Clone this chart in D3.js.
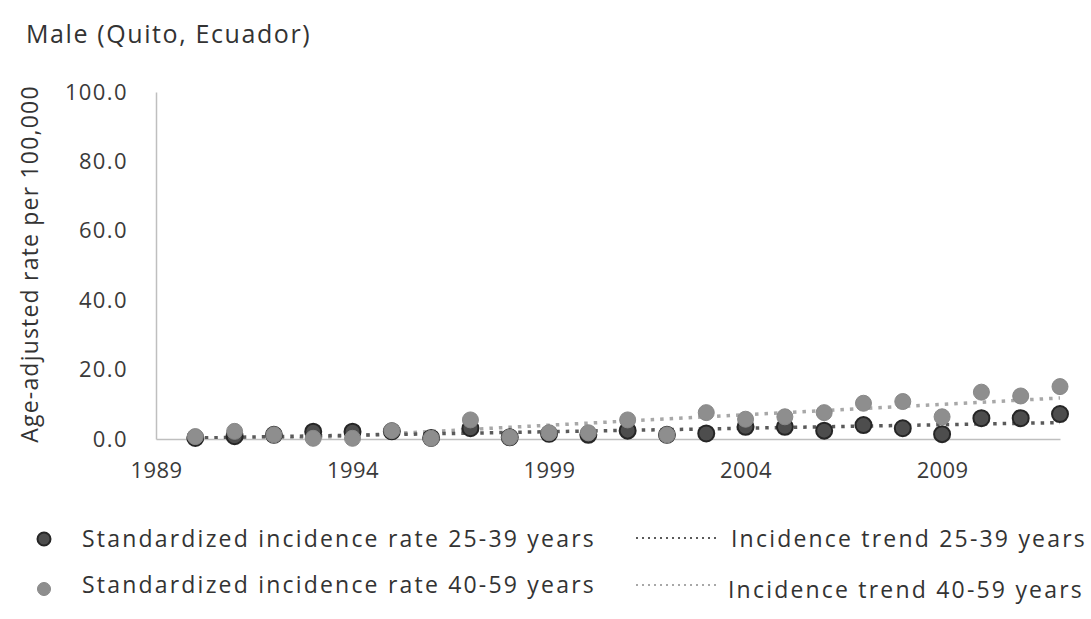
<!doctype html>
<html>
  <head>
    <script src="https://cdnjs.cloudflare.com/ajax/libs/d3/7.8.5/d3.min.js"></script>
    <style>
      body { margin: 0; background: #fff; }
      text { font-family: "Open Sans", sans-serif; fill: #333; }
      .axis path.domain { stroke: #bfbfbf; stroke-width: 1.5; }
      .axis text { font-size: 22px; fill: #3a3a3a; }
      .yaxis text { letter-spacing: 1.4px; }
      .xaxis text { letter-spacing: 0.4px; }
      circle.dark { fill: #4d4d4d; stroke: #262626; stroke-width: 2; }
      circle.light { fill: #8e8e8e; stroke: #888; stroke-width: 1; }
      path.trend-dark { fill: none; stroke: #5a5a5a; stroke-width: 3.5; stroke-dasharray: 3.5 6; }
      path.trend-light { fill: none; stroke: #a8a8a8; stroke-width: 3.5; stroke-dasharray: 3.5 6; }
      .legend text { font-size: 23px; letter-spacing: 2.2px; }
    </style>
  </head>
  <body>
    <svg id="chart" width="1091" height="619"></svg>
    <script>
      // values
      var years = [1990, 1991, 1992, 1993, 1994, 1995, 1996, 1997, 1998, 1999, 2000,
                   2001, 2002, 2003, 2004, 2005, 2006, 2007, 2008, 2009, 2010, 2011, 2012];
      var rate2539 = [0.3, 0.8, 1.2, 2.1, 2.1, 2.2, 0.3, 3.1, 0.5, 1.5, 1.2,
                      2.4, 1.2, 1.6, 3.5, 3.5, 2.4, 4.0, 3.1, 1.4, 6.0, 6.0, 7.2];
      var rate4059 = [0.7, 2.2, 1.2, 0.2, 0.2, 2.4, 0.2, 5.5, 0.5, 1.8, 1.8,
                      5.5, 1.2, 7.6, 5.7, 6.4, 7.6, 10.3, 10.8, 6.4, 13.5, 12.4, 15.1];
      var xTicks = [1989, 1994, 1999, 2004, 2009];
      var yTicks = [0, 20, 40, 60, 80, 100];
      var legendLabels = ["Standardized incidence rate 25-39 years", "Standardized incidence rate 40-59 years"];
      var trendLabels = ["Incidence trend 25-39 years", "Incidence trend 40-59 years"];

      var svg = d3.select("#chart");

      var x = d3.scaleLinear().domain([1989, 2012]).range([156, 1060]);
      var y = d3.scaleLinear().domain([0, 100]).range([439, 92]);

      svg.append("text")
        .attr("x", 26).attr("y", 43)
        .style("font-size", "25px")
        .style("letter-spacing", "1.6px")
        .text("Male (Quito, Ecuador)");

      svg.append("text")
        .attr("transform", "translate(38,264) rotate(-90)")
        .attr("text-anchor", "middle")
        .style("font-size", "23px")
        .style("letter-spacing", "1.2px")
        .text("Age-adjusted rate per 100,000");

      svg.append("g")
        .attr("class", "axis yaxis")
        .attr("transform", "translate(156,0)")
        .call(d3.axisLeft(y).tickValues(yTicks).tickFormat(d3.format(".1f")).tickSize(0).tickPadding(28));

      svg.append("g")
        .attr("class", "axis xaxis")
        .attr("transform", "translate(0,439)")
        .call(d3.axisBottom(x).tickValues(xTicks).tickFormat(d3.format("d")).tickSize(0).tickPadding(23));

      // least-squares trend lines, clipped to the plot like Excel does
      function fit(xs, ys) {
        var mx = d3.mean(xs), my = d3.mean(ys);
        var num = d3.sum(xs, (v, i) => (v - mx) * (ys[i] - my));
        var den = d3.sum(xs, v => (v - mx) * (v - mx));
        var b = num / den;
        return v => my + b * (v - mx);
      }

      svg.append("clipPath").attr("id", "plot")
        .append("rect").attr("x", 156).attr("y", 92).attr("width", 904).attr("height", 347);

      var line = d3.line().x(d => x(d[0])).y(d => y(d[1]));
      var ends = [years[0], years[years.length - 1]];

      var f1 = fit(years, rate2539);
      var f2 = fit(years, rate4059);

      var plot = svg.append("g").attr("clip-path", "url(#plot)");
      plot.append("path").attr("class", "trend-light")
        .attr("d", line(ends.map(v => [v, f2(v)])));
      plot.append("path").attr("class", "trend-dark")
        .attr("d", line(ends.map(v => [v, f1(v)])));

      svg.append("g").selectAll("circle").data(years)
        .enter()
        .append("circle")
          .attr("class", "dark")
          .attr("r", 8)
          .attr("cx", d => x(d))
          .attr("cy", (d, i) => y(rate2539[i]));

      svg.append("g").selectAll("circle").data(years)
        .enter()
        .append("circle")
          .attr("class", "light")
          .attr("r", 8)
          .attr("cx", d => x(d))
          .attr("cy", (d, i) => y(rate4059[i]));

      // legend
      var lg = svg.append("g").attr("class", "legend");
      var rows = [539, 589];
      lg.selectAll("circle").data(rows)
        .enter()
        .append("circle")
          .attr("class", (d, i) => i == 0 ? "dark" : "light")
          .attr("r", 6.5)
          .attr("cx", 44)
          .attr("cy", d => d);
      lg.selectAll("text.series").data(legendLabels)
        .enter()
        .append("text")
          .attr("class", "series")
          .attr("x", 82)
          .attr("y", (d, i) => i == 0 ? 547 : 593)
          .text(d => d);
      lg.selectAll("line").data([538, 585])
        .enter()
        .append("line")
          .attr("x1", 636).attr("x2", 720)
          .attr("y1", d => d).attr("y2", d => d)
          .style("stroke", (d, i) => i == 0 ? "#5a5a5a" : "#a8a8a8")
          .style("stroke-width", 2)
          .style("stroke-dasharray", "2 4");
      lg.selectAll("text.trend").data(trendLabels)
        .enter()
        .append("text")
          .attr("class", "trend")
          .attr("x", (d, i) => i == 0 ? 731 : 728)
          .attr("y", (d, i) => i == 0 ? 547 : 598)
          .text(d => d);
    </script>
  </body>
</html>
